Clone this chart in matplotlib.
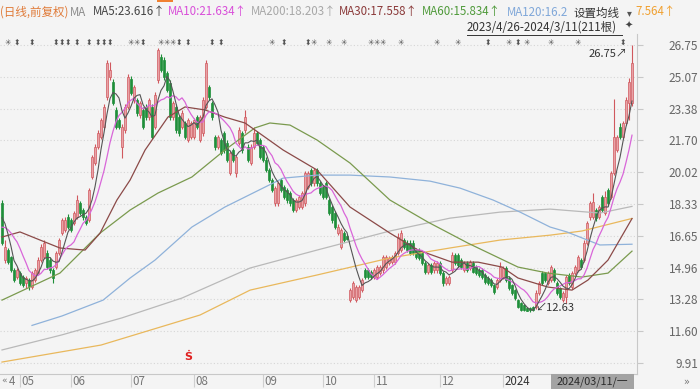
import matplotlib
matplotlib.use("Agg")
import matplotlib.pyplot as plt
import numpy as np
import pandas as pd
from matplotlib.transforms import blended_transform_factory
from matplotlib.patches import Rectangle
from matplotlib.lines import Line2D

plt.rcParams['font.family'] = ['Noto Sans CJK SC', 'DejaVu Sans']

# ---------------- data ----------------
opens = [18.38,15.36,15.89,15.52,14.83,14.46,14.67,14.46,14.14,14.30,13.93,14.30,14.67,15.36,15.52,15.73,15.36,14.83,14.99,15.73,
         16.79,16.95,17.64,17.48,17.32,17.64,18.38,18.01,17.64,17.48,19.76,20.50,21.35,21.88,22.41,23.99,25.05,24.79,23.31,22.78,
         21.35,22.25,23.47,24.95,23.84,23.84,23.04,23.31,23.47,22.93,23.47,22.41,24.89,26.11,25.95,25.27,24.74,22.93,23.47,22.93,
         22.41,22.62,21.72,21.88,21.88,22.93,21.72,22.09,23.47,24.52,23.68,21.88,21.35,21.72,22.09,21.56,19.97,21.19,19.97,21.56,
         22.09,22.25,21.35,20.50,21.35,22.09,21.72,21.35,20.66,20.13,19.60,18.38,18.38,19.60,19.23,19.07,18.91,18.54,18.01,18.17,
         18.17,18.38,19.23,20.13,19.44,20.13,19.44,19.23,19.44,18.54,18.17,17.85,16.79,16.05,16.79,16.65,13.24,13.40,13.24,13.40,
         13.77,14.83,14.83,14.73,14.46,14.46,14.67,14.83,14.99,15.20,15.25,15.25,15.73,15.89,16.42,16.26,16.26,16.26,15.89,15.89,
         15.73,15.20,14.73,15.09,14.83,14.83,15.20,14.67,14.14,14.14,14.83,15.63,15.63,15.36,14.83,15.20,14.94,15.20,14.99,14.83,
         14.83,14.57,14.41,14.30,14.04,13.93,14.30,14.46,14.94,14.41,14.04,13.77,13.24,13.08,12.98,12.82,12.80,12.85,12.87,13.61,
         14.67,14.67,14.14,14.30,14.83,14.14,13.88,13.24,13.40,14.57,13.93,14.67,14.83,15.36,15.36,16.26,17.64,17.64,18.01,17.64,
         18.70,17.85,19.07,18.70,19.97,21.19,22.41,21.88,22.62,23.68,23.68]
closes = [16.26,16.05,15.25,14.83,14.30,14.83,14.14,14.04,14.41,13.98,14.67,14.83,15.36,16.05,16.26,14.99,14.83,14.41,15.73,16.42,
          17.48,17.48,17.11,16.95,17.85,18.54,17.85,17.64,17.32,19.07,20.82,21.35,22.09,22.78,23.47,25.80,25.43,23.68,22.41,22.41,
          22.41,23.47,25.05,24.21,24.52,23.15,23.68,22.41,22.93,23.84,21.88,24.10,26.48,25.43,25.05,24.37,22.93,23.68,22.25,22.09,
          23.15,21.88,22.78,22.62,22.78,22.41,22.93,23.84,25.80,23.99,22.93,21.35,21.88,21.03,21.19,20.66,21.03,20.66,20.82,22.25,
          21.19,22.93,20.66,21.35,22.09,21.56,20.82,20.66,20.13,19.60,19.07,19.17,19.44,19.07,18.70,18.54,18.38,18.01,18.54,18.70,
          18.91,19.97,19.97,19.44,20.13,19.44,18.91,18.70,18.70,17.85,17.48,17.11,17.11,16.95,16.42,16.50,13.77,14.14,13.93,13.93,
          14.30,14.46,14.46,14.46,14.83,14.99,14.99,15.52,15.52,15.47,15.52,15.73,16.58,16.79,16.05,15.89,15.73,15.73,15.52,15.47,
          15.20,14.73,15.09,14.73,15.20,15.20,14.67,14.14,14.41,14.46,15.63,15.20,15.09,14.99,15.20,14.83,15.25,14.73,14.67,14.57,
          14.46,14.20,14.14,14.04,13.67,14.30,14.99,14.94,14.30,13.88,13.61,13.35,12.87,12.71,12.72,12.68,12.70,12.72,13.61,14.14,
          14.14,14.30,14.67,14.99,14.30,13.61,13.40,13.61,14.46,14.14,14.67,14.99,15.52,14.99,16.26,17.32,18.38,18.43,17.58,18.17,
          18.01,18.70,18.38,19.97,21.88,21.88,21.88,22.62,23.84,24.79,25.80]
highs = [18.54,16.42,16.00,15.60,14.95,14.95,14.80,14.55,14.50,14.40,14.80,14.95,15.50,16.20,16.42,15.90,15.50,14.95,15.85,16.55,
         17.60,17.64,17.80,17.60,17.95,18.80,18.50,18.10,17.75,19.20,20.95,21.50,22.25,22.90,23.60,25.95,25.85,24.95,23.45,22.90,
         22.55,23.60,25.20,25.10,24.65,23.95,23.80,23.45,23.60,23.95,23.60,24.25,26.60,26.30,26.10,25.40,24.90,23.80,23.60,23.05,
         23.30,22.75,22.90,22.75,22.90,23.05,23.05,24.00,25.95,24.65,23.80,22.00,22.00,21.85,22.20,21.70,21.15,21.30,20.95,22.40,
         22.20,23.31,21.50,21.50,22.41,22.20,21.85,21.45,20.80,20.25,19.70,19.30,19.55,19.70,19.35,19.20,19.00,18.65,18.65,18.80,
         19.00,20.10,20.10,20.25,20.25,20.25,19.55,19.35,19.55,18.65,18.30,17.95,17.25,17.05,16.90,16.75,13.90,14.25,14.05,14.05,
         14.40,14.95,14.95,14.85,14.95,15.10,15.10,15.65,15.65,15.60,15.65,15.85,16.79,16.95,16.55,16.40,16.40,16.40,16.00,16.00,
         15.85,15.30,15.20,15.20,15.30,15.30,15.30,14.80,14.50,14.55,15.78,15.75,15.75,15.45,15.30,15.30,15.35,15.30,15.10,14.95,
         14.95,14.65,14.50,14.40,14.10,14.40,15.25,15.05,15.05,14.50,14.10,13.85,13.30,13.15,13.05,12.90,12.88,12.95,13.77,14.25,
         14.80,14.75,14.80,15.10,14.95,14.25,13.95,13.70,14.55,14.70,14.80,15.10,15.65,15.45,16.40,17.45,18.50,18.91,18.10,18.30,
         18.80,19.00,19.20,20.10,23.90,22.00,22.62,22.75,24.00,25.00,26.75]
lows = [16.16,15.20,15.15,14.75,14.20,14.35,14.05,13.95,13.88,13.77,13.85,14.20,14.60,15.25,15.40,14.90,14.70,14.14,14.90,15.65,
        16.70,16.85,17.00,16.85,17.20,17.55,17.75,17.50,17.20,17.40,19.65,20.40,21.25,21.75,22.30,23.85,24.90,23.55,22.30,22.30,
        20.75,22.10,23.35,24.10,23.70,23.00,22.90,22.30,22.80,22.80,21.75,22.30,24.75,25.30,24.90,24.25,22.80,22.80,22.10,21.95,
        22.30,21.75,21.60,21.75,21.75,22.30,21.60,21.95,23.35,23.85,22.80,21.20,21.25,20.90,21.05,20.55,19.85,20.55,19.76,21.45,
        21.05,22.10,20.55,20.40,21.25,21.45,20.70,20.55,20.00,19.50,18.95,18.25,18.25,18.95,18.60,18.40,18.25,17.90,17.90,18.05,
        18.05,18.25,19.10,19.30,19.30,19.30,18.80,18.60,18.60,17.75,17.35,17.00,16.70,15.95,16.30,16.40,13.13,13.30,13.15,13.30,
        13.65,14.35,14.35,14.35,14.35,14.35,14.55,14.70,14.90,15.10,15.15,15.15,15.63,15.80,15.95,15.80,15.63,15.63,15.40,15.35,
        15.10,14.60,14.60,14.60,14.70,14.70,14.55,14.00,14.05,14.05,14.75,15.10,15.00,14.90,14.75,14.75,14.85,14.65,14.55,14.45,
        14.35,14.10,14.05,13.95,13.55,13.85,14.20,14.35,14.20,13.80,13.50,13.25,12.80,12.65,12.66,12.65,12.63,12.65,12.78,13.50,
        14.05,14.20,14.05,14.20,14.20,13.50,13.30,13.15,13.08,14.05,13.85,14.55,14.75,14.90,15.25,16.15,17.50,17.55,17.45,17.55,
        17.90,17.75,18.25,18.60,19.85,21.10,21.75,21.75,22.50,22.78,23.50]
pre_closes = [16.20, 16.40, 16.60, 16.80, 17.00, 17.60, 18.00, 18.10, 18.04]

# long moving averages: (candle index, value)
ma30_pts = [(0,16.58),(6,16.85),(12.7,16.42),(19.3,16.00),(27.7,15.89),(32.7,16.79),(38.3,18.54),(42.7,19.60),(47.7,21.19),
            (55.3,22.93),(61,23.47),(67.7,23.31),(74.3,22.93),(81,22.62),(84.3,22.25),(93.7,21.19),(105,20.13),(116,18.17),
            (129.3,16.79),(138.7,15.89),(150,15.25),(158.7,15.25),(166.7,14.99),(172,14.41),(182,13.93),(190,13.77),
            (195.3,14.30),(202,15.36),(210,17.558)]
ma60_pts = [(0,13.24),(19.3,14.67),(32.7,16.79),(42.7,18.01),(52,18.91),(63.3,19.76),(74.3,21.19),(84.3,22.36),(89.3,22.62),
            (96,22.51),(105,21.72),(116,20.50),(129.3,18.54),(142,17.37),(155.3,16.26),(172,14.99),(182,14.67),(193.3,14.46),
            (202,14.67),(210,15.834)]
ma120_pts = [(10,11.90),(20,12.40),(33.7,13.24),(42.7,14.41),(51,15.36),(63.3,17.11),(74.3,18.17),(84.3,18.96),(93.7,19.70),
             (105,19.86),(116,19.86),(129.3,19.76),(142.7,19.54),(152.7,19.17),(163.7,18.54),(172.7,17.90),(182.7,17.11),
             (188.3,16.85),(199.3,16.16),(210,16.20)]
ma200_pts = [(0,10.60),(20,11.40),(40,12.30),(60,13.35),(82.7,14.94),(105,15.89),(129.3,16.90),(149.3,17.58),(166,17.90),
             (182.7,18.06),(199.3,17.85),(210,18.203)]
ma250_pts = [(0,9.96),(33,10.86),(66,12.45),(82.7,13.77),(105,14.57),(129.3,15.47),(149.3,16.0),(166,16.42),(182.7,16.68),
             (193.3,16.90),(210,17.564)]

y_ticks = [26.75, 25.07, 23.38, 21.70, 20.02, 18.33, 16.65, 14.96, 13.28, 11.60, 9.91]
month_idx = [6, 23, 43, 64, 87, 107, 124, 146, 167]
month_lbl = ['05', '06', '07', '08', '09', '10', '11', '12', '2024']

events_star = [2, 43, 45, 53, 55, 57, 90, 104, 109, 114, 123, 125, 127, 133, 145, 152, 169, 175, 183, 192]
events_bar = [5, 10, 18, 20, 22, 25, 29, 32, 34, 36, 47, 59, 62, 70, 73, 94, 102, 162, 172, 207]

legend_items = [("(日线,前复权)", 0, '#e07b39'), ("MA", 70, '#8c8c8c'), ("MA5:23.616↑", 93, '#444444'),
                ("MA10:21.634↑", 168, '#d94fd9'), ("MA200:18.203↑", 251, '#a8a8a8'), ("MA30:17.558↑", 339, '#8b3a3a'),
                ("MA60:15.834↑", 422, '#4f9a3a'), ("MA120:16.2", 507, '#7fa7d9'), ("7.564↑", 635, '#f0a030')]

# ---------------- figure ----------------
BG = '#f4f4f4'
W, H = 700, 389
fig = plt.figure(figsize=(7.0, 3.89), dpi=100)
fig.patch.set_facecolor(BG)
ax = fig.add_axes([0, 15 / H, 637 / W, 340 / H])
ax.set_facecolor(BG)
xmin = -2 / 3
ax.set_xlim(xmin, xmin + 637 / 3)
ax.set_ylim(9.327, 27.333)

o = np.array(opens); c = np.array(closes); h = np.array(highs); l = np.array(lows)
idx = np.arange(len(c))
up = c >= o
dn = ~up
RED_F, RED_E, GRN = '#e9a2a6', '#d0585e', '#1f8f3a'

ax.vlines(idx[up], l[up], h[up], color=RED_E, lw=0.8, zorder=3)
ax.vlines(idx[dn], l[dn], h[dn], color=GRN, lw=0.8, zorder=3)
ax.bar(idx[up], np.maximum(c[up] - o[up], 0.03), bottom=o[up], width=0.72,
       color=RED_F, edgecolor=RED_E, linewidth=0.5, zorder=4)
ax.bar(idx[dn], np.maximum(o[dn] - c[dn], 0.03), bottom=c[dn], width=0.72,
       color=GRN, edgecolor=GRN, linewidth=0.5, zorder=4)

full = pd.Series(pre_closes + closes)
npre = len(pre_closes)
ma5 = full.rolling(5).mean().to_numpy()[npre:]
ma10 = full.rolling(10).mean().to_numpy()[npre:]

def plot_pts(pts, color):
    xs = [p[0] for p in pts]; ys = [p[1] for p in pts]
    ax.plot(xs, ys, color=color, lw=0.9, zorder=5)

plot_pts(ma250_pts, '#e9b85c')
plot_pts(ma200_pts, '#b9b9b9')
plot_pts(ma120_pts, '#8fb2da')
plot_pts(ma60_pts, '#7a9a4e')
plot_pts(ma30_pts, '#8b4a48')
ax.plot(idx, ma10, color='#d966d9', lw=0.9, zorder=5)
ax.plot(idx, ma5, color='#555555', lw=0.8, zorder=5)

# axes styling
for s in ['top', 'left']:
    ax.spines[s].set_visible(False)
for s in ['right', 'bottom']:
    ax.spines[s].set_color('#c8c8c8')
    ax.spines[s].set_linewidth(0.8)
ax.yaxis.tick_right()
ax.set_yticks(y_ticks)
ax.set_yticklabels([f"{v:.2f}" for v in y_ticks])
ax.tick_params(axis='y', colors='#c8c8c8', labelcolor='#666666', labelsize=8.5, length=4, pad=40)
for t in ax.get_yticklabels():
    t.set_horizontalalignment('right')
ax.grid(axis='y', linestyle=(0, (1, 2)), color='#d6d6d6', lw=0.8)
ax.set_xticks(month_idx)
ax.set_xticklabels([])
ax.tick_params(axis='x', colors='#cfcfcf', length=9, width=0.8, direction='out')

tb = blended_transform_factory(ax.transData, ax.transAxes)
for i, lab in zip(month_idx, month_lbl):
    ax.text(i + 0.5, -7.5 / 340, lab, transform=tb, ha='left', va='center', fontsize=8.3,
            color='#333333' if lab == '2024' else '#777777')

# event markers row
for i in events_star:
    ax.text(i, 0.976, '✳', transform=tb, ha='center', va='center', fontsize=5.5,
            color='#555555', family=['DejaVu Sans'])
for i in events_bar:
    ax.text(i, 0.976, '⬍', transform=tb, ha='center', va='center', fontsize=5.5,
            color='#555555', family=['DejaVu Sans'])

# signal marker
ax.text(62, 10.22, 'Ṡ', ha='center', va='center', fontsize=8, color='#e02020', weight='bold',
        family=['DejaVu Sans'])

# high / low annotations
ihi = int(np.argmax(h)); ilo = int(np.argmin(l))
ax.annotate(f"{h[ihi]:.2f}↗", xy=(ihi, h[ihi]), xytext=(-4, -9), textcoords='offset pixels',
            ha='right', va='center', fontsize=8, color='#333333')
ax.annotate(f"↙{l[ilo]:.2f}", xy=(ilo, l[ilo]), xytext=(5, 4), textcoords='offset pixels',
            ha='left', va='center', fontsize=8, color='#333333')

# top legend
for txt, xp, col in legend_items:
    fig.text(xp / W, 1 - 12 / H, txt, ha='left', va='center', fontsize=8.3, color=col)
fig.text(574 / W, 1 - 13 / H, '设置均线', ha='left', va='center', fontsize=8.3, color='#333333')
fig.text(629 / W, 1 - 13 / H, '▾', ha='center', va='center', fontsize=7, color='#555555',
         family=['DejaVu Sans'])
fig.text(467 / W, 1 - 27 / H, '2023/4/26-2024/3/11(211根)', ha='left', va='center', fontsize=8.3,
         color='#333333')
fig.add_artist(Line2D([467 / W, 622 / W], [1 - 34.5 / H] * 2, color='#333333', lw=0.7))
fig.text(629 / W, 1 - 26 / H, '✦', ha='center', va='center', fontsize=7, color='#444444',
         family=['DejaVu Sans'])
fig.add_artist(Rectangle((157 / W, 1 - 2 / H), 16 / W, 2 / H, color='#f08030', lw=0))

# bottom bar
fig.add_artist(Rectangle((551 / W, 0), 83 / W, 15 / H, color='#a3a3a3', lw=0))
fig.text(592 / W, 7.5 / H, '2024/03/11/一', ha='center', va='center', fontsize=7.8, color='#2a2a2a')
fig.text(1 / W, 7.5 / H, '«', ha='left', va='center', fontsize=6.5, color='#777777', family=['DejaVu Sans'])
fig.text(9 / W, 7.5 / H, '4', ha='left', va='center', fontsize=8.3, color='#777777')
fig.text(686 / W, 7.5 / H, '»', ha='center', va='center', fontsize=7, color='#777777', family=['DejaVu Sans'])

fig.savefig('out.png', dpi=100, facecolor=BG)
